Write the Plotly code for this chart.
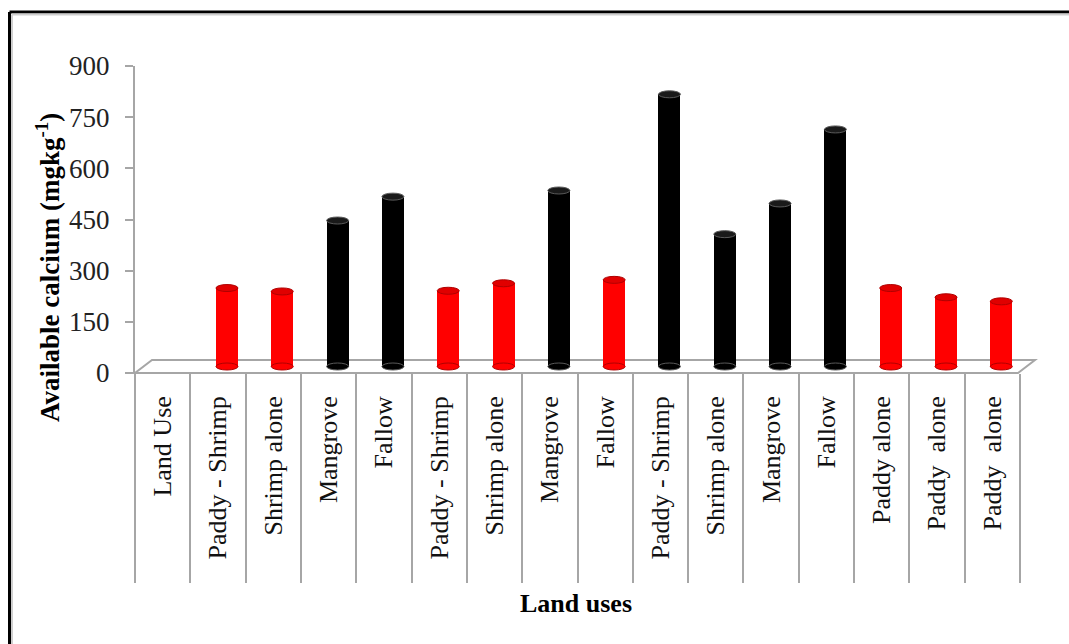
import plotly.graph_objects as go

# Category row under the floor (first cell is the header cell)
categories = [
    "Land Use", "Paddy - Shrimp", "Shrimp alone", "Mangrove", "Fallow",
    "Paddy - Shrimp", "Shrimp alone", "Mangrove", "Fallow",
    "Paddy - Shrimp", "Shrimp alone", "Mangrove", "Fallow",
    "Paddy alone", "Paddy  alone", "Paddy  alone",
]
# Available calcium (mg kg-1) for the 15 land-use samples (categories 1..15)
calcium = [230, 220, 428, 498, 222, 244, 516, 254, 798, 388, 478, 695, 230, 203, 191]
# Bar colour group per sample: "r" = red, "k" = black
groups = ["r", "r", "k", "k", "r", "r", "k", "r", "k", "k", "k", "k", "r", "r", "r"]
y_ticks = [0, 150, 300, 450, 600, 750, 900]

# ---- layout geometry (pixels) ----
W, H = 1069, 644
L, R, T, B = 135, 1069 - 1020, 66, 644 - 373
PW, PH = W - L - R, H - T - B
Y_MAX = 900

def px_x(px):
    return (px - L) / PW

def px_y(py):
    return (H - B - py) / PH

n_cat = len(categories)
unit_px = PW / n_cat                 # pixels per category
depth_dx, depth_dy = 17, 13          # floor depth offset
bar_shift = 9 / unit_px              # bars sit mid-depth, shifted right
bar_w = 22 / unit_px
floor_lift = 6.5 * Y_MAX / PH        # mid-depth floor height in data units
cap_h = 7 * Y_MAX / PH               # ellipse cap height in data units

colors = {"r": "#FF0000", "k": "#000000"}
cap_fill = {"r": "#E00000", "k": "#1A1A1A"}
cap_line = {"r": "#B00000", "k": "#5A5A5A"}

xs = [i + 1 + bar_shift for i in range(len(calcium))]

fig = go.Figure()
fig.add_trace(go.Bar(
    x=xs, y=calcium, base=[floor_lift] * len(calcium),
    width=bar_w,
    marker=dict(color=[colors[g] for g in groups], line=dict(width=0)),
    showlegend=False, hoverinfo="y",
))

shapes = []
# floor parallelogram
x_fl, x_fr = L, 1018
y_front = H - B
floor_path = "M {} {} L {} {} L {} {} L {} {} Z".format(
    px_x(x_fl), px_y(y_front),
    px_x(x_fr), px_y(y_front),
    px_x(x_fr + depth_dx), px_y(y_front - depth_dy),
    px_x(x_fl + depth_dx), px_y(y_front - depth_dy),
)
shapes.append(dict(type="path", xref="paper", yref="paper", path=floor_path,
                   fillcolor="white", line=dict(color="#A6A6A6", width=2), layer="below"))

# cylinder caps (top and bottom ellipses)
for x, v, g in zip(xs, calcium, groups):
    for yc in (floor_lift, floor_lift + v):
        shapes.append(dict(type="circle", xref="x", yref="y",
                           x0=x - bar_w / 2, x1=x + bar_w / 2,
                           y0=yc - cap_h / 2, y1=yc + cap_h / 2,
                           fillcolor=cap_fill[g] if yc > floor_lift else colors[g],
                           line=dict(color=cap_line[g], width=1), layer="above"))

# outer frame (top and left edges, with a soft inner shadow)
shapes.append(dict(type="line", xref="paper", yref="paper",
                   x0=px_x(9.5), x1=px_x(W + 5), y0=px_y(12), y1=px_y(12),
                   line=dict(color="black", width=3)))
shapes.append(dict(type="line", xref="paper", yref="paper",
                   x0=px_x(9.5), x1=px_x(9.5), y0=px_y(12), y1=px_y(H + 5),
                   line=dict(color="black", width=3)))
shapes.append(dict(type="line", xref="paper", yref="paper",
                   x0=px_x(12), x1=px_x(W + 5), y0=px_y(14.5), y1=px_y(14.5),
                   line=dict(color="#CFCFCF", width=2)))
shapes.append(dict(type="line", xref="paper", yref="paper",
                   x0=px_x(12), x1=px_x(12), y0=px_y(14.5), y1=px_y(H + 5),
                   line=dict(color="#CFCFCF", width=2)))

serif = "Liberation Serif, Times New Roman, serif"

annotations = [
    dict(text="<b>Available calcium (mgkg<sup>-1</sup>)</b>", textangle=-90,
         xref="paper", yref="paper", x=px_x(48), y=px_y(268),
         xanchor="center", yanchor="middle",
         showarrow=False, font=dict(family=serif, size=27, color="black")),
    dict(text="<b>Land uses</b>",
         xref="paper", yref="paper", x=px_x(576), y=px_y(603),
         xanchor="center", yanchor="middle",
         showarrow=False, font=dict(family=serif, size=26, color="black")),
]

fig.update_layout(
    width=W, height=H, autosize=False,
    margin=dict(l=L, r=R, t=T, b=B, pad=0),
    paper_bgcolor="white", plot_bgcolor="rgba(0,0,0,0)",
    bargap=0,
    shapes=shapes, annotations=annotations,
    xaxis=dict(
        range=[-0.5, n_cat - 0.5], tickmode="array",
        tickvals=list(range(n_cat)), ticktext=categories,
        tickangle=-90, ticks="", showline=False, showgrid=False, zeroline=False,
        ticklabelstandoff=17,
        tickfont=dict(family=serif, size=26, color="#111111"),
    ),
    xaxis2=dict(
        overlaying="x", anchor="y", side="bottom",
        range=[-0.5, n_cat - 0.5], tickmode="array",
        tickvals=[i - 0.5 for i in range(n_cat + 1)],
        ticks="outside", ticklen=209, tickwidth=2, tickcolor="#A6A6A6",
        showticklabels=False, showline=False, showgrid=False, zeroline=False,
    ),
    yaxis=dict(
        range=[0, Y_MAX], tickmode="array", tickvals=y_ticks,
        ticks="outside", ticklen=8, tickwidth=2, tickcolor="#A6A6A6",
        showline=True, linecolor="#A6A6A6", linewidth=2,
        showgrid=False, zeroline=False, ticklabelstandoff=10,
        tickfont=dict(family=serif, size=27, color="#222222"),
    ),
)
# invisible point so the overlaying x axis is rendered
fig.add_trace(go.Scatter(x=[0], y=[0], xaxis="x2", mode="markers",
                         marker=dict(opacity=0), showlegend=False, hoverinfo="skip"))

fig.write_html("out.html")
